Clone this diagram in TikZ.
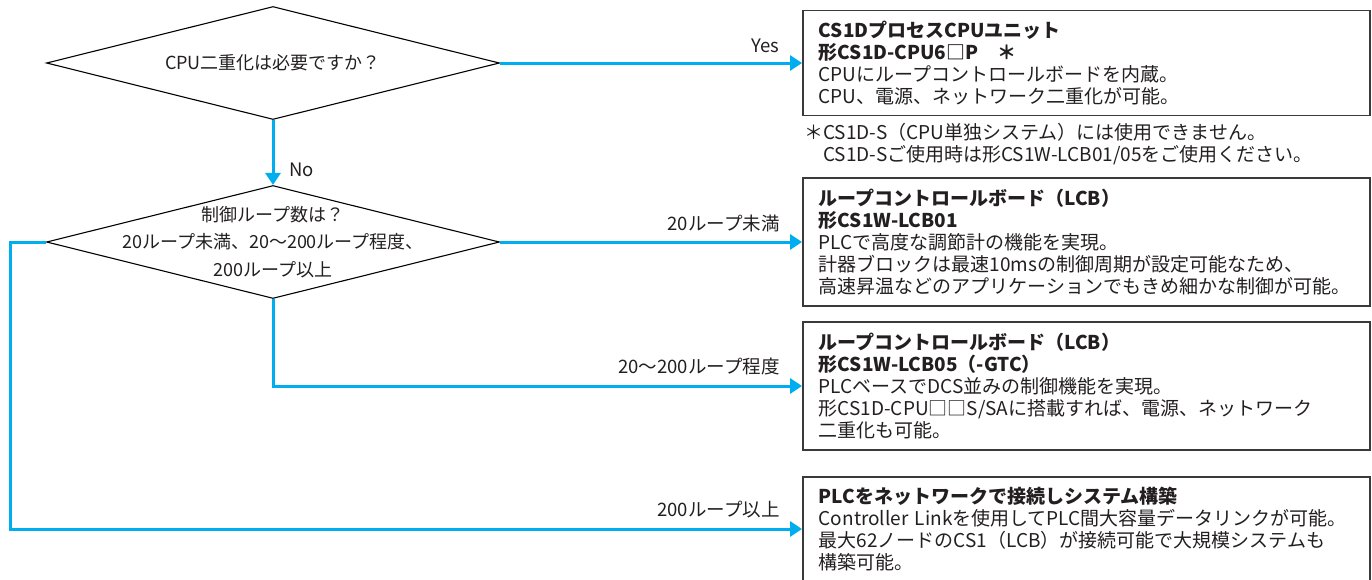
\documentclass[tikz,border=0pt]{standalone}
\usepackage{fontspec}
\setmainfont{Noto Sans CJK JP}
\setsansfont{Noto Sans CJK JP}
\usetikzlibrary{arrows.meta,shapes.geometric}
\definecolor{flowcyan}{HTML}{00AEEF}
\definecolor{framegrey}{HTML}{3A3A3A}
\definecolor{inkgrey}{HTML}{231F20}
\tikzset{
  >={Triangle[length=12pt,width=15pt]},
  font=\fontsize{19}{22}\selectfont,
  choice/.style={draw=black,line width=1.1pt,diamond,minimum width=453pt,
                 minimum height=113pt,inner sep=0pt},
  asktext/.style={align=center,text=inkgrey,inner sep=0pt,
                  font=\fontsize{18}{27.5}\selectfont},
  unitbox/.style={draw=framegrey,line width=1.6pt,anchor=west,minimum height=#1,
                  text width=535pt,inner xsep=16pt,align=left,text=inkgrey},
  feed/.style={->,line width=3pt,draw=flowcyan},
  feedlbl/.style={font=\fontsize{18.5}{20}\selectfont,text=inkgrey,inner sep=0pt},
  remark/.style={align=left,anchor=west,text=inkgrey,inner sep=0pt},
}

\begin{document}
\begin{tikzpicture}[x=1pt,y=-1pt]
  \clip (0,0) rectangle (1372,579);

  % the two questions
  \node[choice] (dup) at (273,63) {};
  \node[asktext] (dupq) at (dup.center) {CPU二重化は必要ですか？};
  \node[choice] (loops) at (273,242) {};
  \node[asktext] (loopsq) at (loops.center)
    {制御ループ数は？\\20ループ未満、20～200ループ程度、\\200ループ以上};

  % the answers
  \node[unitbox=105pt] (cpu) at (802,63)
    {\textbf{CS1DプロセスCPUユニット}\\
     \textbf{形CS1D-CPU6□P　＊}\\
     CPUにループコントロールボードを内蔵。\\
     CPU、電源、ネットワーク二重化が可能。};
  \node[remark] (cpunote) at (804,144)
    {＊CS1D-S（CPU単独システム）には使用できません。\\
     \hphantom{＊}CS1D-Sご使用時は形CS1W-LCB01/05をご使用ください。};
  \node[unitbox=128pt] (lcbone) at (802,242)
    {\textbf{ループコントロールボード（LCB）}\\
     \textbf{形CS1W-LCB01}\\
     PLCで高度な調節計の機能を実現。\\
     計器ブロックは最速10msの制御周期が設定可能なため、\\
     高速昇温などのアプリケーションでもきめ細かな制御が可能。};
  \node[unitbox=128pt] (lcbfive) at (802,386)
    {\textbf{ループコントロールボード（LCB）}\\
     \textbf{形CS1W-LCB05（-GTC）}\\
     PLCベースでDCS並みの制御機能を実現。\\
     形CS1D-CPU□□S/SAに搭載すれば、電源、ネットワーク\\
     二重化も可能。};
  \node[unitbox=104pt] (plcnet) at (802,529)
    {\textbf{PLCをネットワークで接続しシステム構築}\\
     Controller Linkを使用してPLC間大容量データリンクが可能。\\
     最大62ノードのCS1（LCB）が接続可能で大規模システムも\\
     構築可能。};

  \coordinate (wrap) at (10,242);

  % connectors
  \draw[feed] (dup.east) -- (cpu.west)
    node[feedlbl,at end,anchor=south east,xshift=-21pt,yshift=9pt] {Yes};
  \draw[feed] (dup.south) -- (loops.north)
    node[feedlbl,at end,anchor=west,xshift=15pt,yshift=15pt] {No};
  \draw[feed] (loops.east) -- (lcbone.west)
    node[feedlbl,at end,anchor=south east,xshift=-21pt,yshift=9pt] {20ループ未満};
  \draw[feed] (loops.south) |- (lcbfive.west)
    node[feedlbl,at end,anchor=south east,xshift=-21pt,yshift=9pt] {20～200ループ程度};
  \draw[feed] (loops.west) -- (wrap) |- (plcnet.west)
    node[feedlbl,at end,anchor=south east,xshift=-21pt,yshift=9pt] {200ループ以上};
\end{tikzpicture}
\end{document}
